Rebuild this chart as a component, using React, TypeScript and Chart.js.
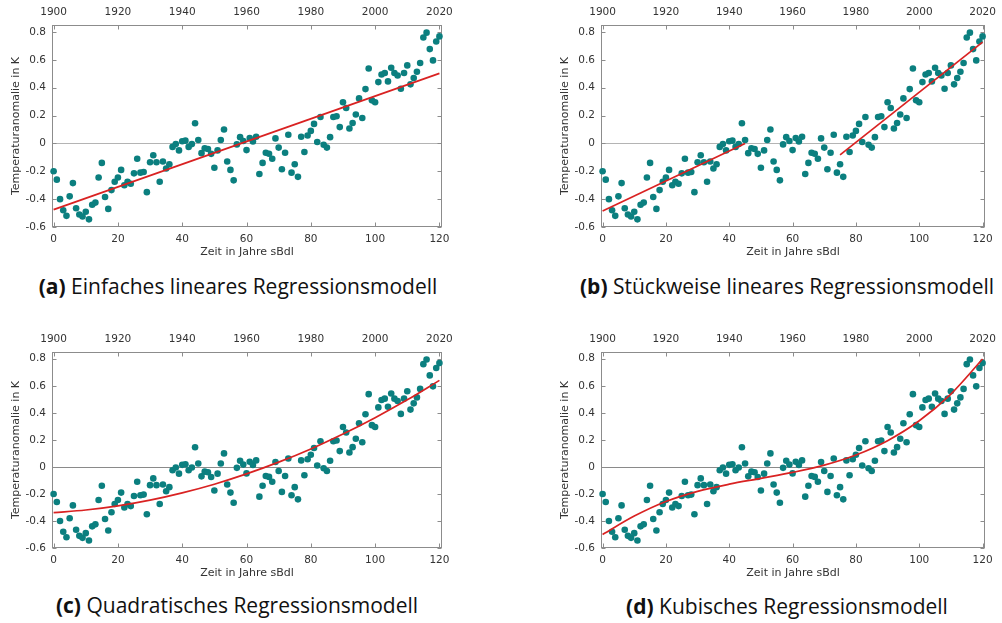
import React, { useEffect, useRef } from 'react';
import { Chart, registerables } from 'chart.js';

Chart.register(...registerables);
Chart.defaults.font.family = '"DejaVu Sans", sans-serif';
Chart.defaults.color = '#333333';

// Global temperature anomaly (K), one value per year from 1900 to 2020
const startYear = 1900;
const anomalies = [
  -0.2, -0.26, -0.4, -0.48, -0.52, -0.38, -0.285, -0.465, -0.51, -0.525,
  -0.49, -0.545, -0.44, -0.425, -0.245, -0.14, -0.385, -0.47, -0.335, -0.275,
  -0.245, -0.19, -0.3, -0.275, -0.29, -0.215, -0.11, -0.21, -0.205, -0.35,
  -0.135, -0.085, -0.135, -0.275, -0.13, -0.18, -0.15, -0.025, -0.005, -0.05,
  0.015, 0.02, -0.025, -0.005, 0.145, 0.025, -0.07, -0.035, -0.04, -0.075,
  -0.175, -0.05, 0.025, 0.1, -0.13, -0.19, -0.265, -0.007, 0.045, 0.017,
  -0.048, 0.038, 0.014, 0.048, -0.22, -0.14, -0.067, -0.074, -0.11, 0.036,
  -0.03, -0.185, -0.067, 0.062, -0.21, -0.15, -0.24, 0.048, -0.062, 0.057,
  0.09, 0.14, 0.01, 0.19, -0.01, -0.03, 0.045, 0.19, 0.195, 0.117,
  0.295, 0.254, 0.107, 0.146, 0.208, 0.323, 0.182, 0.39, 0.538, 0.309,
  0.295, 0.44, 0.495, 0.505, 0.445, 0.543, 0.505, 0.488, 0.392, 0.505,
  0.56, 0.424, 0.47, 0.514, 0.577, 0.76, 0.795, 0.677, 0.596, 0.732, 0.768,
];
const timeSteps = anomalies.map((_, i) => i);

// Axis ticks
const xTicks = [0, 20, 40, 60, 80, 100, 120];
const yearTicks = [1900, 1920, 1940, 1960, 1980, 2000, 2020];
const yTicks = [-0.6, -0.4, -0.2, 0, 0.2, 0.4, 0.6, 0.8];

// Model curves
const linearX = [0, 120];
const linearY = [-0.475, 0.503];
const pieceEarlyX = [0, 45];
const pieceEarlyY = [-0.485, 0.0];
const pieceLateX = [75, 120];
const pieceLateY = [-0.082, 0.727];
const curveX = [0, 10, 20, 30, 40, 50, 60, 70, 80, 90, 100, 110, 120];
const quadraticY = [-0.338, -0.319, -0.288, -0.246, -0.192, -0.128, -0.052, 0.035, 0.133, 0.243, 0.364, 0.496, 0.64];
const cubicY = [-0.5, -0.364, -0.256, -0.181, -0.128, -0.085, -0.041, 0.013, 0.088, 0.194, 0.341, 0.539, 0.798];

const X_MIN = -0.5;
const X_MAX = 120.8;
const Y_MIN = -0.6;
const Y_MAX = 0.85;

const DOT = '#0b7f7f';
const RED = '#d92222';
const FRAME = '#8c8c8c';

type Curve = { xs: number[]; ys: number[]; smooth?: boolean };

type PanelProps = {
  left: number;
  top: number;
  width: number;
  height: number;
  rightPad: number;
  curves: Curve[];
  zeroColor: string;
};

const pts = (xs: number[], ys: number[]) => xs.map((x, i) => ({ x, y: ys[i] }));

function framePlugin(zeroColor: string) {
  return {
    id: 'frame',
    beforeDatasetsDraw(chart: any) {
      const { ctx, chartArea: a, scales } = chart;
      const L = Math.round(a.left) + 0.5;
      const R = Math.round(a.right) - 0.5;
      const T = Math.round(a.top) + 0.5;
      const B = Math.round(a.bottom) - 0.5;
      ctx.save();
      // zero reference line
      const y0 = Math.round(scales.y.getPixelForValue(0)) + 0.5;
      ctx.strokeStyle = zeroColor;
      ctx.lineWidth = 1.2;
      ctx.beginPath();
      ctx.moveTo(L, y0);
      ctx.lineTo(R, y0);
      ctx.stroke();
      // box
      ctx.strokeStyle = FRAME;
      ctx.lineWidth = 1;
      ctx.strokeRect(L, T, R - L, B - T);
      // inward tick marks
      const tl = 4;
      ctx.beginPath();
      yTicks.forEach((v) => {
        const p = Math.round(scales.y.getPixelForValue(v)) + 0.5;
        ctx.moveTo(L, p);
        ctx.lineTo(L + tl, p);
        ctx.moveTo(R, p);
        ctx.lineTo(R - tl, p);
      });
      xTicks.forEach((v) => {
        const p = Math.round(scales.x.getPixelForValue(v)) + 0.5;
        ctx.moveTo(p, B);
        ctx.lineTo(p, B - tl);
      });
      yearTicks.forEach((v) => {
        const p = Math.round(scales.x2.getPixelForValue(v)) + 0.5;
        ctx.moveTo(p, T);
        ctx.lineTo(p, T + tl);
      });
      ctx.stroke();
      ctx.restore();
    },
  };
}

function Panel({ left, top, width, height, rightPad, curves, zeroColor }: PanelProps) {
  const ref = useRef<HTMLCanvasElement | null>(null);

  useEffect(() => {
    if (!ref.current) return;
    const tickFont = { size: 10.5 };
    const titleFont = { size: 11 };
    const datasets: any[] = [
      {
        type: 'scatter',
        data: pts(timeSteps, anomalies),
        backgroundColor: DOT,
        borderColor: DOT,
        borderWidth: 0,
        pointRadius: 3.3,
        clip: false,
        order: 2,
      },
      ...curves.map((c) => ({
        type: 'line',
        data: pts(c.xs, c.ys),
        borderColor: RED,
        borderWidth: 1.7,
        pointRadius: 0,
        fill: false,
        cubicInterpolationMode: c.smooth ? 'monotone' : 'default',
        tension: 0,
        order: 1,
      })),
    ];

    const chart = new Chart(ref.current, {
      type: 'scatter',
      data: { datasets },
      plugins: [framePlugin(zeroColor)],
      options: {
        animation: false,
        responsive: false,
        events: [],
        layout: { padding: { left: 0, top: 0, bottom: 0, right: rightPad } },
        plugins: { legend: { display: false }, tooltip: { enabled: false } },
        scales: {
          x: {
            type: 'linear',
            position: 'bottom',
            min: X_MIN,
            max: X_MAX,
            grid: { display: false, drawTicks: false },
            border: { display: false },
            afterBuildTicks: (s: any) => {
              s.ticks = xTicks.map((v) => ({ value: v }));
            },
            afterFit: (s: any) => {
              s.height = 35;
            },
            ticks: { font: tickFont, padding: 6, maxRotation: 0, autoSkip: false, color: '#333' },
            title: {
              display: true,
              text: 'Zeit in Jahre sBdl',
              font: titleFont,
              color: '#333',
              padding: { top: 0, bottom: 3 },
            },
          },
          x2: {
            type: 'linear',
            position: 'top',
            min: startYear + X_MIN,
            max: startYear + X_MAX,
            grid: { display: false, drawTicks: false },
            border: { display: false },
            afterBuildTicks: (s: any) => {
              s.ticks = yearTicks.map((v) => ({ value: v }));
            },
            afterFit: (s: any) => {
              s.height = 25;
            },
            ticks: {
              font: tickFont,
              padding: 6,
              maxRotation: 0,
              autoSkip: false,
              color: '#333',
              callback: (v: any) => String(v),
            },
          },
          y: {
            type: 'linear',
            position: 'left',
            min: Y_MIN,
            max: Y_MAX,
            grid: { display: false, drawTicks: false },
            border: { display: false },
            afterBuildTicks: (s: any) => {
              s.ticks = yTicks.map((v) => ({ value: v }));
            },
            afterFit: (s: any) => {
              s.width = 52;
            },
            ticks: {
              font: tickFont,
              padding: 6,
              color: '#333',
              callback: (v: any) => (Math.abs(v) < 1e-9 ? '0' : Number(v).toFixed(1)),
            },
            title: {
              display: true,
              text: 'Temperaturanomalie in K',
              font: titleFont,
              color: '#333',
              padding: { top: 9.4, bottom: 0 },
            },
          },
        },
      } as any,
    });
    return () => chart.destroy();
  }, []);

  return (
    <canvas
      ref={ref}
      width={width}
      height={height}
      style={{ position: 'absolute', left, top, width, height }}
    />
  );
}

function Caption({ cx, baseline, tag, text }: { cx: number; baseline: number; tag: string; text: string }) {
  return (
    <div
      style={{
        position: 'absolute',
        left: cx - 300,
        top: baseline - 18.7,
        width: 600,
        textAlign: 'center',
        fontFamily: '"Open Sans", sans-serif',
        fontSize: 21,
        lineHeight: '21px',
        color: '#111',
        whiteSpace: 'nowrap',
      }}
    >
      <b>({tag})</b> {text}
    </div>
  );
}

export default function App() {
  return (
    <div
      style={{
        position: 'fixed',
        left: 0,
        top: 0,
        width: 1002,
        height: 623,
        background: '#fff',
        overflow: 'hidden',
      }}
    >
      <Panel left={0} top={0} width={470} height={262} rightPad={28} zeroColor="#b4b4b4"
        curves={[{ xs: linearX, ys: linearY }]} />
      <Panel left={549} top={0} width={453} height={262} rightPad={10} zeroColor="#b4b4b4"
        curves={[{ xs: pieceEarlyX, ys: pieceEarlyY }, { xs: pieceLateX, ys: pieceLateY }]} />
      <Panel left={0} top={327} width={470} height={256} rightPad={28} zeroColor="#8a8a8a"
        curves={[{ xs: curveX, ys: quadraticY, smooth: true }]} />
      <Panel left={549} top={327} width={453} height={256} rightPad={10} zeroColor="#8a8a8a"
        curves={[{ xs: curveX, ys: cubicY, smooth: true }]} />
      <Caption cx={238} baseline={295} tag="a" text="Einfaches lineares Regressionsmodell" />
      <Caption cx={787} baseline={295} tag="b" text="Stückweise lineares Regressionsmodell" />
      <Caption cx={237} baseline={614} tag="c" text="Quadratisches Regressionsmodell" />
      <Caption cx={787} baseline={615} tag="d" text="Kubisches Regressionsmodell" />
    </div>
  );
}
